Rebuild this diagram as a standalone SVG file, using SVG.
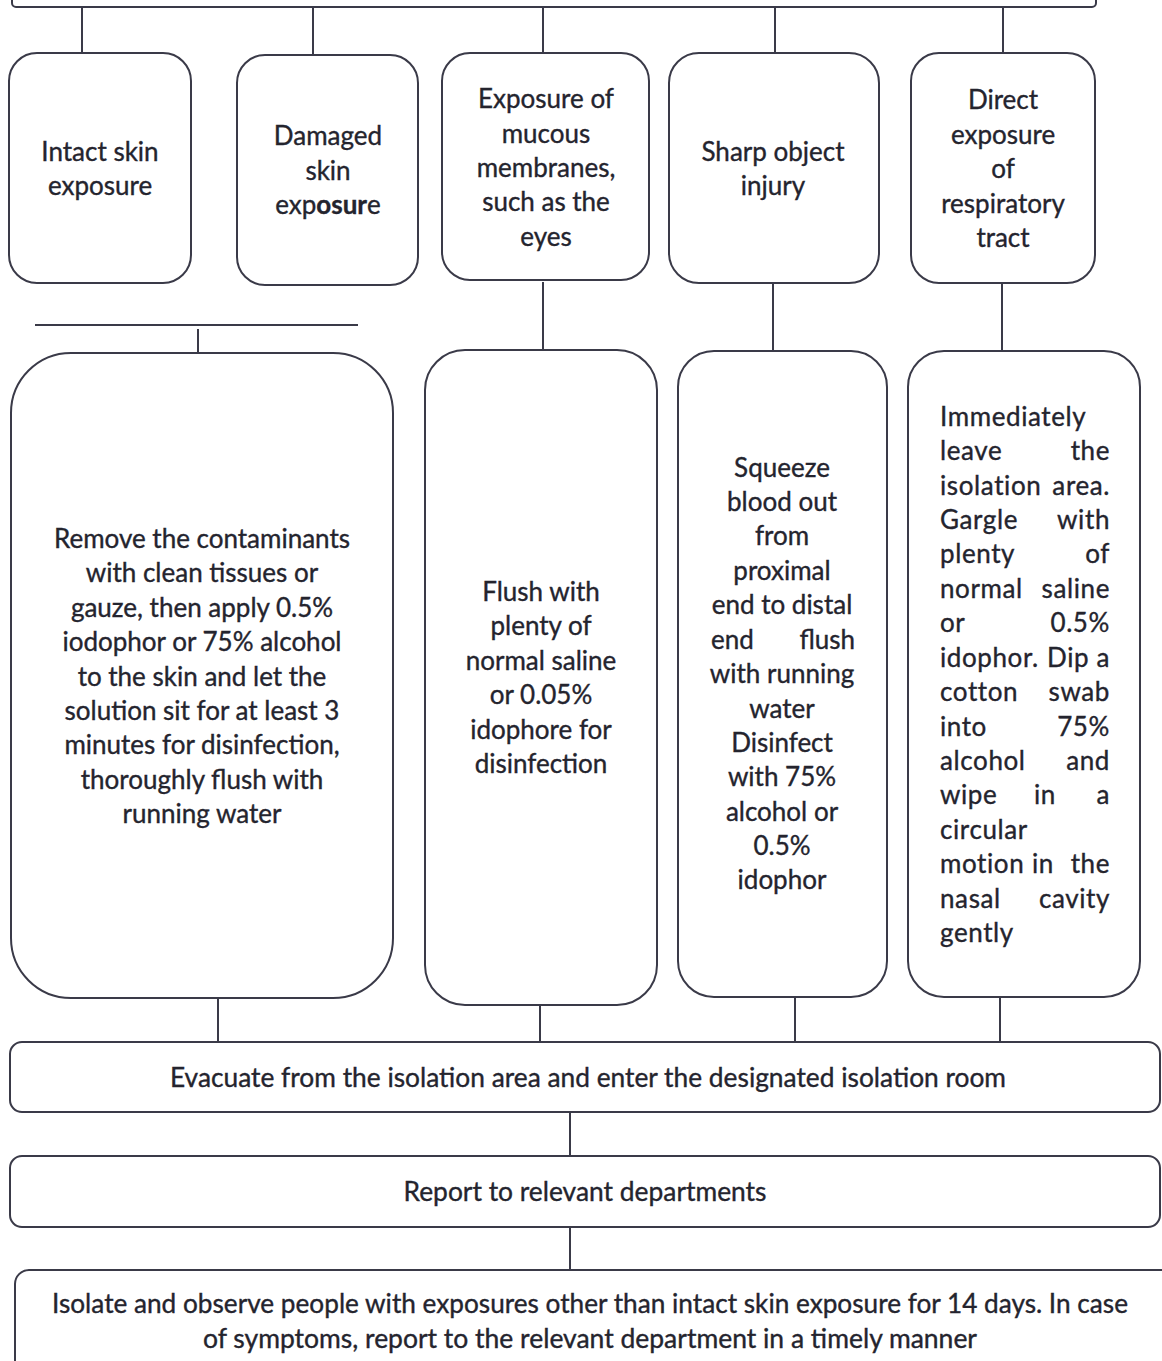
<svg xmlns="http://www.w3.org/2000/svg" width="1162" height="1361" viewBox="0 0 1162 1361">
<style>
.box{fill:#fff;stroke:#3a3a48;stroke-width:2}
.ln{stroke:#3a3a48;stroke-width:2;fill:none}
text{font-family:Lato,"Open Sans","Liberation Sans",sans-serif;font-size:26px;fill:#24242e;stroke:#24242e;stroke-width:0.35}
.c{text-anchor:middle}
.e{text-anchor:end}
.w{letter-spacing:0.6px}
</style>
<rect width="1162" height="1361" fill="#fff"/>
<g id="connectors">
<line class="ln" x1="82" y1="7" x2="82" y2="53"/>
<line class="ln" x1="313" y1="7" x2="313" y2="55"/>
<line class="ln" x1="543" y1="7" x2="543" y2="53"/>
<line class="ln" x1="775" y1="7" x2="775" y2="53"/>
<line class="ln" x1="1003" y1="7" x2="1003" y2="53"/>
<line class="ln" x1="543" y1="282" x2="543" y2="350"/>
<line class="ln" x1="773" y1="283" x2="773" y2="351"/>
<line class="ln" x1="1002" y1="283" x2="1002" y2="351"/>
<line class="ln" x1="35" y1="325" x2="358" y2="325"/>
<line class="ln" x1="198" y1="329" x2="198" y2="353"/>
<line class="ln" x1="218" y1="997" x2="218" y2="1041"/>
<line class="ln" x1="540" y1="1003" x2="540" y2="1046"/>
<line class="ln" x1="795" y1="995" x2="795" y2="1041"/>
<line class="ln" x1="1000" y1="995" x2="1000" y2="1041"/>
<line class="ln" x1="570" y1="1112" x2="570" y2="1156"/>
<line class="ln" x1="570" y1="1227" x2="570" y2="1270"/>
</g>
<g id="top">
<rect class="box" x="12" y="-30" width="1084" height="37" rx="4"/>
</g>
<g id="n1">
<rect class="box" x="9" y="53" width="182" height="230" rx="28"/>
<text class="c" x="100" y="161">Intact skin</text>
<text class="c" x="100" y="195">exposure</text>
</g>
<g id="n2">
<rect class="box" x="237" y="55" width="181" height="230" rx="28"/>
<text class="c" x="328" y="145">Damaged</text>
<text class="c" x="328" y="180">skin</text>
<text class="c" x="328" y="214">exp<tspan font-weight="bold">osur</tspan>e</text>
</g>
<g id="n3">
<rect class="box" x="442" y="53" width="207" height="227" rx="28"/>
<text class="c" x="546" y="108">Exposure of</text>
<text class="c" x="546" y="143">mucous</text>
<text class="c" x="546" y="177">membranes,</text>
<text class="c" x="546" y="211">such as the</text>
<text class="c" x="546" y="246">eyes</text>
</g>
<g id="n4">
<rect class="box" x="669" y="53" width="210" height="230" rx="30"/>
<text class="c" x="773" y="161">Sharp object</text>
<text class="c" x="773" y="195">injury</text>
</g>
<g id="n5">
<rect class="box" x="911" y="53" width="184" height="230" rx="28"/>
<text class="c" x="1003" y="109">Direct</text>
<text class="c" x="1003" y="144">exposure</text>
<text class="c" x="1003" y="178">of</text>
<text class="c" x="1003" y="213">respiratory</text>
<text class="c" x="1003" y="247">tract</text>
</g>
<g id="a1">
<rect class="box" x="11" y="353" width="382" height="645" rx="60"/>
<text class="c" x="202" y="548">Remove the contaminants</text>
<text class="c" x="202" y="582">with clean tissues or</text>
<text class="c" x="202" y="617">gauze, then apply 0.5%</text>
<text class="c" x="202" y="651">iodophor or 75% alcohol</text>
<text class="c" x="202" y="686">to the skin and let the</text>
<text class="c" x="202" y="720">solution sit for at least 3</text>
<text class="c" x="202" y="754">minutes for disinfection,</text>
<text class="c" x="202" y="789">thoroughly flush with</text>
<text class="c" x="202" y="823">running water</text>
</g>
<g id="a2">
<rect class="box" x="425" y="350" width="232" height="655" rx="40"/>
<text class="c" x="541" y="601">Flush with</text>
<text class="c" x="541" y="635">plenty of</text>
<text class="c" x="541" y="670">normal saline</text>
<text class="c" x="541" y="704">or 0.05%</text>
<text class="c" x="541" y="739">idophore for</text>
<text class="c" x="541" y="773">disinfection</text>
</g>
<g id="a3">
<rect class="box" x="678" y="351" width="209" height="646" rx="36"/>
<text class="c" x="782" y="477">Squeeze</text>
<text class="c" x="782" y="511">blood out</text>
<text class="c" x="782" y="545">from</text>
<text class="c" x="782" y="580">proximal</text>
<text class="c" x="782" y="614">end to distal</text>
<text x="711" y="649">end</text><text class="e" x="855" y="649">flush</text>
<text class="c" x="782" y="683">with running</text>
<text class="c" x="782" y="718">water</text>
<text class="c" x="782" y="752">Disinfect</text>
<text class="c" x="782" y="786">with 75%</text>
<text class="c" x="782" y="821">alcohol or</text>
<text class="c" x="782" y="855">0.5%</text>
<text class="c" x="782" y="889">idophor</text>
</g>
<g id="a4" class="w">
<rect class="box" x="908" y="351" width="232" height="646" rx="36"/>
<text x="940" y="426">Immediately</text>
<text x="940" y="460">leave</text><text class="e" x="1110" y="460">the</text>
<text x="940" y="495">isolation</text><text class="e" x="1110" y="495">area.</text>
<text x="940" y="529">Gargle</text><text class="e" x="1110" y="529">with</text>
<text x="940" y="563">plenty</text><text class="e" x="1110" y="563">of</text>
<text x="940" y="598">normal</text><text class="e" x="1110" y="598">saline</text>
<text x="940" y="632">or</text><text class="e" x="1110" y="632">0.5%</text>
<text x="940" y="667">idophor.</text><text class="e" x="1110" y="667">Dip a</text>
<text x="940" y="701">cotton</text><text class="e" x="1110" y="701">swab</text>
<text x="940" y="736">into</text><text class="e" x="1110" y="736">75%</text>
<text x="940" y="770">alcohol</text><text class="e" x="1110" y="770">and</text>
<text x="940" y="804">wipe</text><text class="c" x="1045" y="804">in</text><text class="e" x="1110" y="804">a</text>
<text x="940" y="839">circular</text>
<text x="940" y="873">motion</text><text class="c" x="1043" y="873">in</text><text class="e" x="1110" y="873">the</text>
<text x="940" y="908">nasal</text><text class="e" x="1110" y="908">cavity</text>
<text x="940" y="942">gently</text>
</g>
<g id="evac">
<rect class="box" x="10" y="1042" width="1150" height="70" rx="12"/>
<text class="c" x="588" y="1087" textLength="836" lengthAdjust="spacingAndGlyphs">Evacuate from the isolation area and enter the designated isolation room</text>
</g>
<g id="report">
<rect class="box" x="10" y="1156" width="1150" height="71" rx="12"/>
<text class="c" x="585" y="1201" textLength="363" lengthAdjust="spacingAndGlyphs">Report to relevant departments</text>
</g>
<g id="isolate">
<rect class="box" x="15" y="1270" width="1160" height="110" rx="14"/>
<text class="c" x="590" y="1313" textLength="1076" lengthAdjust="spacingAndGlyphs">Isolate and observe people with exposures other than intact skin exposure for 14 days. In case</text>
<text class="c" x="590" y="1348" textLength="774" lengthAdjust="spacingAndGlyphs">of symptoms, report to the relevant department in a timely manner</text>
</g>
</svg>
